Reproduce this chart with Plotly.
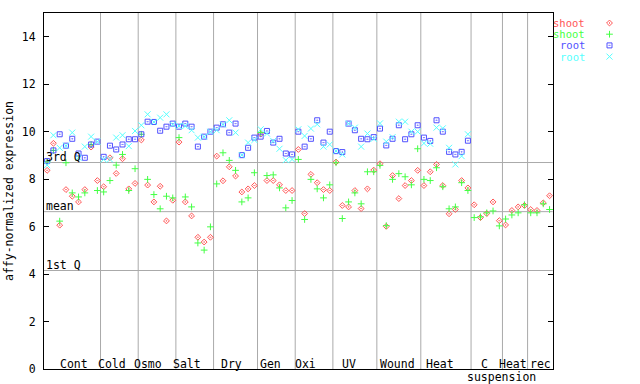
import plotly.graph_objects as go

# ---------------- data ----------------
group_names = ["Cont", "Cold", "Osmo", "Salt", "Dry", "Gen", "Oxi", "UV",
               "Wound", "Heat", "C", "Heat", "rec"]
group_sizes = [9, 6, 6, 6, 7, 6, 6, 7, 7, 8, 5, 4, 4]

shoot1 = [8.37, 9.51, 6.06, 7.56, 7.28, 7.04, 7.56, 9.35, 7.94,
          7.68, 8.90, 8.24, 8.86, 7.59, 7.82,
          9.65, 7.75, 7.04, 7.70, 6.24, 7.11,
          9.56, 7.04, 6.45, 5.55, 5.35, 5.55,
          8.97, 7.93, 8.52, 8.13, 7.46, 7.59, 7.73,
          9.90, 7.94, 7.94, 7.76, 7.52, 7.52,
          9.25, 6.55, 8.20, 7.85, 7.56, 7.52,
          8.72, 6.89, 6.83, 7.52, 6.76, 7.59, 8.38,
          8.65, 6.01, 8.15, 7.18, 7.73, 7.94, 8.37,
          7.73, 8.31, 8.62, 7.73, 6.54, 6.72, 7.94, 7.63,
          6.92, 6.38, 6.55, 7.04, 6.25,
          6.07, 6.68, 6.83, 6.89,
          6.72, 6.68, 7.00, 7.30]

shoot2 = [8.75, 9.21, 6.23, 8.69, 7.42, 7.25, 7.42, 9.46, 7.52,
          7.46, 7.94, 8.59, 9.04, 7.52, 8.44,
          9.89, 7.99, 7.35, 6.75, 7.28, 7.21,
          9.75, 7.25, 6.83, 5.31, 5.01, 5.99,
          7.80, 9.11, 8.79, 8.37, 7.04, 7.21, 8.27,
          9.96, 8.15, 8.18, 7.63, 6.79, 7.10,
          8.83, 6.30, 7.99, 7.59, 7.21, 7.76,
          8.69, 6.34, 7.04, 7.42, 6.96, 8.31, 8.31,
          8.58, 6.04, 7.99, 8.23, 8.10, 7.76, 9.28,
          7.99, 7.94, 8.48, 7.68, 6.75, 6.83, 7.85, 7.52,
          6.38, 6.41, 6.58, 6.66, 6.03,
          6.32, 6.49, 6.58, 6.92,
          6.58, 6.58, 6.96, 6.72]

root1 = [8.76, 9.21, 9.89, 9.41, 9.70, 9.08, 8.90, 9.46, 9.58,
         8.94, 9.41, 9.25, 9.46, 9.68, 9.68,
         9.89, 10.42, 10.41, 10.04, 10.21, 10.34,
         10.21, 10.34, 10.21, 9.37, 9.79, 10.00,
         10.17, 10.31, 9.96, 10.34, 9.01, 9.32, 9.75,
         9.79, 10.03, 9.54, 9.70, 9.08, 9.04,
         10.00, 9.37, 9.70, 10.48, 9.54, 10.00,
         9.18, 9.14, 10.34, 10.06, 9.70, 9.68, 9.77,
         10.13, 9.42, 9.70, 10.27, 9.68, 9.89, 10.27,
         9.75, 9.61, 10.48, 10.00, 9.15, 9.04, 9.15, 9.62,
         None, None, None, None, None,
         None, None, None, None,
         None, None, None, None]

root2 = [8.59, 9.85, 9.32, 9.41, 9.96, 8.90, 9.37, 9.79, 9.58,
         8.83, 8.83, 9.75, 9.85, 9.39, 10.03,
         10.27, 10.73, 10.41, 10.59, 10.73, 10.30,
         10.24, 10.24, 10.06, 9.75, 9.79, 10.00,
         10.06, 10.30, 10.48, 9.96, 9.01, 9.54, 9.65,
         10.10, 9.92, 9.61, 9.28, 8.80, 8.83,
         10.10, 9.82, 10.13, 10.31, 9.37, 9.46,
         9.18, 9.04, 10.34, 10.17, 9.37, 9.92, 9.70,
         10.35, 9.58, 9.77, 10.42, 10.42, 10.00, 10.00,
         9.51, 9.49, 10.17, 10.14, 9.32, 8.62, 8.97, 9.89,
         None, None, None, None, None,
         None, None, None, None,
         None, None, None, None]

ref_names = ["3rd Q", "mean", "1st Q"]
ref_values = [8.70, 6.63, 4.15]

y_ticks = [0, 2, 4, 6, 8, 10, 12, 14]

# ---------------- styling ----------------
FONT = "DejaVu Sans Mono"
FS = 11.5
series = [
    ("shoot", shoot1, "#ff5555", "diamond-open-dot", 4.5),
    ("shoot", shoot2, "#44ff44", "cross-thin-open", 4.8),
    ("root", root1, "#5050ff", "square-open-dot", 5),
    ("root", root2, "#55ffff", "x-thin-open", 6),
]

n = len(shoot1)
x = [i + 0.5 for i in range(n)]

W, H = 640, 384
L, R, T, B = 44, 0, 13.3, 14.7
plot_w = W - L - R
plot_h = H - T - B
x_end_px = 552.7
dom_end = (x_end_px - L) / plot_w

fig = go.Figure()
for name, vals, col, sym, sz in series:
    fig.add_trace(go.Scatter(
        x=x, y=vals, mode="markers", name=name, showlegend=False,
        marker=dict(symbol=sym, size=sz, color=col,
                    line=dict(color=col, width=1)),
        cliponaxis=False,
    ))

shapes = []
bounds = []
acc = 0
for s in group_sizes[:-1]:
    acc += s
    bounds.append(acc)
for b in bounds:
    shapes.append(dict(type="line", xref="x", yref="paper", x0=b, x1=b,
                       y0=0, y1=1, line=dict(color="#aaaaaa", width=1),
                       layer="below"))
for v in ref_values:
    shapes.append(dict(type="line", xref="paper", yref="y", x0=0, x1=dom_end,
                       y0=v, y1=v, line=dict(color="#aaaaaa", width=1),
                       layer="below"))

annotations = []
for nm, v in zip(ref_names, ref_values):
    annotations.append(dict(text=nm, xref="paper", yref="y", x=0.002, y=v,
                            xanchor="left", yanchor="bottom", showarrow=False,
                            font=dict(family=FONT, size=FS, color="black"),
                            borderpad=0, yshift=-2))

label_px = [74, 112, 148, 187, 231, 270, 305, 349, 397, 440, 484, 513, 540]
unit = (x_end_px - L) / n
for nm, px in zip(group_names, label_px):
    annotations.append(dict(text=nm, xref="x", yref="paper",
                            x=(px - L) / unit, y=(H - B - 364) / plot_h,
                            xanchor="center", yanchor="middle", showarrow=False,
                            font=dict(family=FONT, size=FS, color="black"),
                            borderpad=0))
annotations.append(dict(text="suspension", xref="x", yref="paper",
                        x=(501 - L) / unit, y=(H - B - 377) / plot_h,
                        xanchor="center", yanchor="middle", showarrow=False,
                        font=dict(family=FONT, size=FS, color="black"),
                        borderpad=0))

# legend (text right-aligned, symbol on the right)
leg_top = 23.3
leg_step = 11.2
leg_text_px = 586
leg_sym_px = 609.5
LFS = 10.5
for k, (name, vals, col, sym, sz) in enumerate(series):
    py = leg_top + k * leg_step
    annotations.append(dict(text=name, xref="paper", yref="paper",
                            x=(leg_text_px - L) / plot_w, y=(H - B - py) / plot_h,
                            xanchor="right", yanchor="middle", showarrow=False,
                            font=dict(family=FONT, size=LFS, color=col),
                            borderpad=0))
    fig.add_trace(go.Scatter(
        x=[leg_sym_px], y=[py], xaxis="x2", yaxis="y2", mode="markers",
        showlegend=False, hoverinfo="skip",
        marker=dict(symbol=sym, size=sz, color=col, line=dict(color=col, width=1)),
    ))

fig.update_layout(
    width=W, height=H,
    margin=dict(l=L, r=R, t=T, b=B),
    paper_bgcolor="white", plot_bgcolor="white",
    showlegend=False,
    font=dict(family=FONT, size=FS, color="black"),
    xaxis=dict(domain=[0, dom_end], range=[0, n], showgrid=False,
               zeroline=False, showticklabels=False, ticks="",
               showline=True, linecolor="black", linewidth=1, mirror=True),
    yaxis=dict(range=[0, 15], tickvals=y_ticks, showgrid=False,
               zeroline=False, ticks="inside", ticklen=5, tickcolor="black",
               showline=True, linecolor="black", linewidth=1, mirror="ticks",
               ticklabelstandoff=5,
               tickfont=dict(family=FONT, size=FS, color="black"),
               title=dict(text="affy-normalized expression", standoff=5,
                          font=dict(family=FONT, size=FS, color="black"))),
    xaxis2=dict(domain=[dom_end, 1], range=[x_end_px, W], visible=False,
                anchor="y2"),
    yaxis2=dict(domain=[0, 1], range=[H - B, T], visible=False, anchor="x2"),
    shapes=shapes,
    annotations=annotations,
)

fig.write_html("out.html",
               config={"displayModeBar": False},
               post_script="document.body.style.margin='0px';document.body.style.overflow='hidden';")
